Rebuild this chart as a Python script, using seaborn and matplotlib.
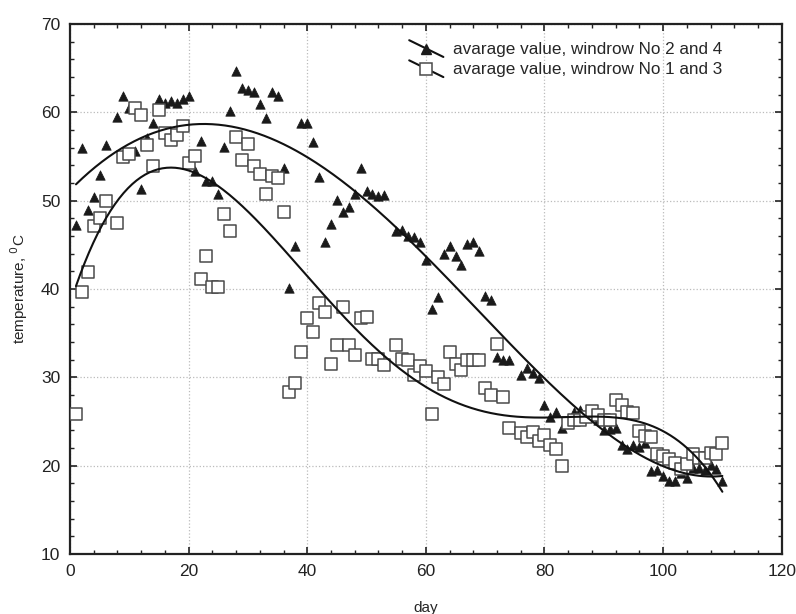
import numpy as np
import pandas as pd
import matplotlib
matplotlib.use('Agg')
import matplotlib.pyplot as plt
import seaborn as sns
from matplotlib.lines import Line2D
from matplotlib.legend_handler import HandlerLine2D
from matplotlib.ticker import MultipleLocator

# windrow No 2 and 4 (triangles)
day_24 = [1, 2, 3, 4, 5, 6, 8, 9, 10, 11, 12, 13, 14, 15, 16, 17, 18, 19, 20,
          21, 22, 23, 24, 25, 26, 27, 28, 29, 30, 31, 32, 33, 34, 35, 36, 37,
          38, 39, 40, 41, 42, 43, 44, 45, 46, 47, 48, 49, 50, 51, 52, 53,
          55, 56, 57, 58, 59, 60, 61, 62, 63, 64, 65, 66, 67, 68, 69, 70, 71,
          72, 73, 74, 76, 77, 78, 79, 80, 81, 82,
          83, 85, 86, 89, 90, 91, 92, 93, 94, 95, 96, 97, 98, 99, 100, 101,
          102, 103, 104, 105, 106, 107, 108, 109, 110]
temp_24 = [47.2, 55.9, 48.9, 50.4, 52.9, 56.3, 59.5, 61.8, 60.5, 55.6, 51.3,
           57.1, 58.8, 61.5, 61.0, 61.3, 61.1, 61.5, 61.8,
           53.3, 56.8, 52.2, 52.2, 50.7, 56.1, 60.1, 64.7, 62.7, 62.5, 62.3,
           60.9, 59.3, 62.3, 61.8, 53.7, 40.1,
           44.9, 58.8, 58.8, 56.6, 52.7, 45.3, 47.4, 50.1, 48.7, 49.3, 50.7,
           53.7, 51.1, 50.7, 50.5, 50.6,
           46.5, 46.7, 46.0, 45.9, 45.3, 43.3, 37.7, 39.1, 43.9, 44.9, 43.7,
           42.7, 45.1, 45.3, 44.3, 39.2, 38.7,
           32.3, 32.0, 32.0, 30.3, 31.0, 30.5, 29.9, 26.8, 25.5, 26.1,
           24.3, 26.1, 26.3, 25.1, 24.0, 24.1, 24.3, 22.3, 21.9, 22.3, 22.1,
           22.5, 19.4, 19.5, 18.8, 18.3,
           18.3, 19.1, 18.6, 19.7, 19.7, 19.5, 20.1, 19.6, 18.2]

# windrow No 1 and 3 (squares)
day_13 = [1, 2, 3, 4, 5, 6, 8, 9, 10, 11, 12, 13, 14, 15, 16, 17, 18, 19, 20,
          21, 22, 23, 24, 25, 26, 27, 28, 29, 30, 31, 32, 33, 34, 35, 36,
          37, 38, 39, 40, 41, 42, 43, 44, 45, 46, 47, 48, 49, 50, 51, 52, 53,
          55, 56, 57, 58, 59, 60, 61, 62, 63, 64, 65, 66, 67, 68, 69, 70, 71,
          72, 73, 74, 76, 77, 78, 79, 80, 81, 82,
          83, 84, 85, 86, 87, 88, 89, 90, 91, 92, 93, 94, 95, 96, 97, 98,
          99, 100, 101, 102, 103, 104, 105, 106, 107, 108, 109, 110]
temp_13 = [25.8, 39.7, 41.9, 47.1, 48.0, 50.0, 47.5, 54.9, 55.3, 60.5, 59.7,
           56.3, 53.9, 60.3, 57.7, 56.9, 57.4, 58.5, 54.2,
           55.1, 41.1, 43.7, 40.2, 40.2, 48.5, 46.5, 57.2, 54.6, 56.4, 53.9,
           53.0, 50.7, 52.8, 52.5, 48.7,
           28.3, 29.3, 32.9, 36.7, 35.1, 38.4, 37.4, 31.5, 33.7, 37.9, 33.7,
           32.5, 36.7, 36.8, 32.1, 32.1, 31.4,
           33.7, 32.1, 31.9, 30.3, 31.3, 30.7, 25.8, 30.0, 29.2, 32.9, 31.5,
           30.8, 31.9, 31.9, 31.9, 28.8, 28.0,
           33.8, 27.8, 24.3, 23.7, 23.2, 23.8, 22.8, 23.5, 22.3, 21.9,
           20.0, 24.8, 25.2, 25.2, 25.5, 26.2, 25.7, 25.2, 25.1, 27.4, 26.9,
           26.1, 25.9, 23.9, 23.3, 23.2,
           21.3, 21.1, 20.7, 20.3, 19.6, 20.2, 21.3, 20.9, 20.9, 21.4, 21.3,
           22.5]

labels = ['avarage value, windrow No 2 and 4',
          'avarage value, windrow No 1 and 3']

# trend lines are 4th order polynomial fits
FIT_DEG = 4

sns.set_style('ticks')
plt.rcParams['font.family'] = ['Liberation Sans', 'DejaVu Sans']

fig = plt.figure(figsize=(7.96, 6.14), dpi=100)
ax = fig.add_axes([0.088, 0.098, 0.894, 0.863])

df24 = pd.DataFrame({'day': day_24, 'temp': temp_24})
df13 = pd.DataFrame({'day': day_13, 'temp': temp_13})

sns.scatterplot(data=df24, x='day', y='temp', marker='^', s=46,
                color='#1a1a1a', edgecolor='#1a1a1a', linewidth=0.5,
                ax=ax, zorder=3)
sns.scatterplot(data=df13, x='day', y='temp', marker='s', s=64,
                facecolor='white', edgecolor='#4a4a4a', linewidth=1.1,
                ax=ax, zorder=3)

for d in (df24, df13):
    coef = np.polyfit(d['day'], d['temp'], FIT_DEG)
    xs = np.linspace(d['day'].min(), d['day'].max(), 300)
    sns.lineplot(x=xs, y=np.polyval(coef, xs), color='#111111',
                 linewidth=1.5, ax=ax, zorder=4)

ax.set_xlim(0, 120)
ax.set_ylim(10, 70)
ax.xaxis.set_major_locator(MultipleLocator(20))
ax.xaxis.set_minor_locator(MultipleLocator(4))
ax.yaxis.set_major_locator(MultipleLocator(10))
ax.yaxis.set_minor_locator(MultipleLocator(2))
ax.tick_params(which='both', direction='in', top=True, right=True,
               labelsize=12.5, colors='#222222')
ax.tick_params(which='major', length=5, width=1.2, pad=7)
ax.tick_params(which='minor', length=3, width=1.0)
ax.grid(True, which='major', color='#bbbbbb', linestyle=':', linewidth=0.9)
for sp in ax.spines.values():
    sp.set_linewidth(1.6)
    sp.set_color('#222222')

ax.set_xlabel('day', fontsize=11, labelpad=16)
ax.set_ylabel('temperature, $^{0}$C', fontsize=11, labelpad=8)


class DiagHandler(HandlerLine2D):
    # legend key: diagonal line with the marker in its middle
    def create_artists(self, legend, orig_handle, xdescent, ydescent,
                       width, height, fontsize, trans):
        x0, x1 = -xdescent, width - xdescent
        y0, y1 = height * 1.15 - ydescent, -0.25 * height - ydescent
        ln = Line2D([x0, x1], [y0, y1], color='#111111', linewidth=1.5)
        mk = Line2D([(x0 + x1) / 2], [(y0 + y1) / 2],
                    marker=orig_handle.get_marker(),
                    markersize=orig_handle.get_markersize(),
                    markerfacecolor=orig_handle.get_markerfacecolor(),
                    markeredgecolor=orig_handle.get_markeredgecolor(),
                    markeredgewidth=orig_handle.get_markeredgewidth(),
                    linestyle='none')
        for a in (ln, mk):
            a.set_transform(trans)
        return [ln, mk]


h24 = Line2D([], [], marker='^', markersize=7, color='#1a1a1a',
             markerfacecolor='#1a1a1a', markeredgecolor='#1a1a1a')
h13 = Line2D([], [], marker='s', markersize=8, color='#1a1a1a',
             markerfacecolor='white', markeredgecolor='#4a4a4a',
             markeredgewidth=1.1)
ax.legend([h24, h13], labels, loc='upper left',
          bbox_to_anchor=(0.455, 0.995), frameon=False, fontsize=12.3,
          handlelength=2.0, handletextpad=0.55, labelspacing=0.3,
          handler_map={Line2D: DiagHandler()})

plt.savefig('out.png', dpi=100)
